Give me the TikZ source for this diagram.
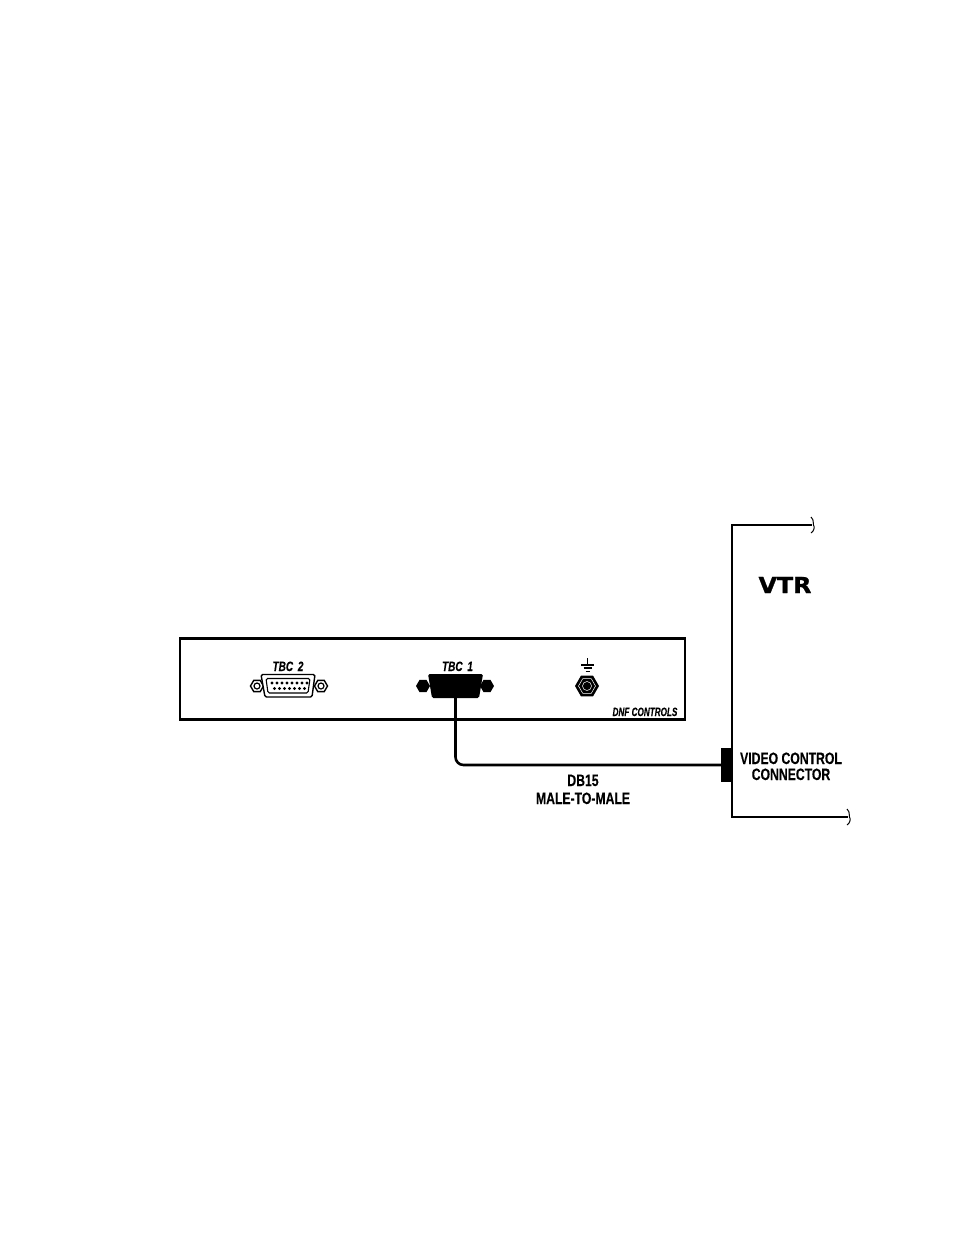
\documentclass[tikz,border=0pt]{standalone}
\usepackage{fontspec}
\usetikzlibrary{shapes.geometric}
\newfontfamily\labelfont[FakeStretch=0.74,FakeBold=0.15]{Liberation Sans Bold}
\newfontfamily\portfont[FakeStretch=0.74,FakeBold=0.3]{Liberation Sans Bold Italic}
\newfontfamily\brandfont[FakeStretch=0.68,FakeBold=0.3]{Liberation Sans Bold Italic}
\newfontfamily\vtrfont[FakeStretch=1.08,FakeBold=1.2]{DejaVu Sans Bold}
\tikzset{
  frame/.style={line width=2.6pt,black},
  cable/.style={line width=2.6pt,black,rounded corners=8pt},
  squiggle/.style={line width=1pt,black},
  hexnut/.style={regular polygon,regular polygon sides=6,inner sep=0pt,outer sep=0pt,minimum size=#1},
  lab/.style={font=\labelfont\fontsize{16.5}{16.5}\selectfont,anchor=base,inner sep=0pt},
  port/.style={font=\portfont\fontsize{13.5}{13.5}\selectfont,anchor=base,inner sep=0pt},
  pin/.style={circle,fill=black,inner sep=0pt,minimum size=3.2pt},
}
\begin{document}
\begin{tikzpicture}[x=1pt,y=-1pt]
\useasboundingbox (0,0) rectangle (954,1235);
% panel
\node[draw,line width=2.8pt,minimum width=505pt,minimum height=81pt,inner sep=0pt,outer sep=0pt] (panel) at (432.5,679) {};
% TBC 2 connector
\node[port] (tbc2label) at (288,671) {TBC\hspace{2pt} 2};
\node[hexnut=13pt,draw,line width=1.4pt] (nutA) at (257,686) {};
\node[circle,draw,line width=1.2pt,minimum size=6pt,inner sep=0pt] (nutAi) at (257,686) {};
\node[hexnut=13pt,draw,line width=1.4pt] (nutB) at (321,686) {};
\node[circle,draw,line width=1.2pt,minimum size=6pt,inner sep=0pt] (nutBi) at (321,686) {};
\draw[line width=1.4pt,fill=white,rounded corners=1.5pt] (261,674.5) -- (315,674.5) -- (312,697) -- (265,697) -- cycle;
\draw[line width=1.1pt,rounded corners=1.5pt] (266,678.5) -- (310,678.5) -- (308,693) -- (268,693) -- cycle;
\foreach \i in {0,...,7} \node[pin] (pa\i) at (272+5*\i,683) {};
\foreach \i in {0,...,6} \node[pin] (pb\i) at (274.5+5*\i,688.5) {};
% TBC 1 connector
\node[port] (tbc1label) at (457.5,671) {TBC\hspace{2pt} 1};
\node[hexnut=14pt,fill=black] (nutC) at (423,686) {};
\node[hexnut=14pt,fill=black] (nutD) at (487,686) {};
\fill[black,rounded corners=1.5pt] (428,674) -- (483,674) -- (479,698) -- (432,698) -- cycle;
\node[inner sep=0pt,outer sep=0pt,minimum size=0pt] (tbc1) at (455.5,697) {};
% ground
\node[hexnut=24pt,fill=black] (gnd) at (587,686) {};
\node[hexnut=17pt,draw=white,line width=.5pt] (gndi) at (587,686) {};
\node[circle,draw=white,line width=.5pt,minimum size=9pt,inner sep=0pt] (gndc) at (587,686) {};
\coordinate (gtop) at (587.5,658);
\coordinate (gmid) at (587.5,665);
\draw[line width=1.2pt] (gtop) -- (gmid);
\draw[line width=1.2pt] (581,665) -- (594,665);
\draw[line width=1.2pt] (583.5,668) -- (591.5,668);
\draw[line width=1pt] (585.5,671) -- (589.5,671);
\node[font=\brandfont\fontsize{12}{12}\selectfont,anchor=base,inner sep=0pt] (brand) at (645,716) {DNF CONTROLS};
% VTR
\coordinate (vtrTop) at (812,525);
\coordinate (vtrBot) at (848,817);
\draw[frame] (vtrTop) -- (732,525) -- (732,817) -- (vtrBot);
\draw[squiggle] (811,517) .. controls (815,521) and (812,523) .. (813.5,525) .. controls (815,527) and (814,531) .. (811,533);
\draw[squiggle] (847,809) .. controls (851,813) and (848,815) .. (849.5,817) .. controls (851,819) and (850,823) .. (847,825);
\node[font=\vtrfont\fontsize{22}{22}\selectfont,anchor=base,inner sep=0pt] (vtr) at (785,593) {VTR};
\node[fill=black,minimum width=11pt,minimum height=34pt,inner sep=0pt,outer sep=0pt] (vc) at (726.5,765) {};
\node[lab] (vc1) at (791,764) {VIDEO CONTROL};
\node[lab] (vc2) at (791,780) {CONNECTOR};
% cable
\draw[cable] (tbc1.center) -- (tbc1.center |- vc.west) -- (vc.west);
\node[lab] (db) at (583,786) {DB15};
\node[lab] (mm) at (583,804) {MALE-TO-MALE};
\end{tikzpicture}
\end{document}
